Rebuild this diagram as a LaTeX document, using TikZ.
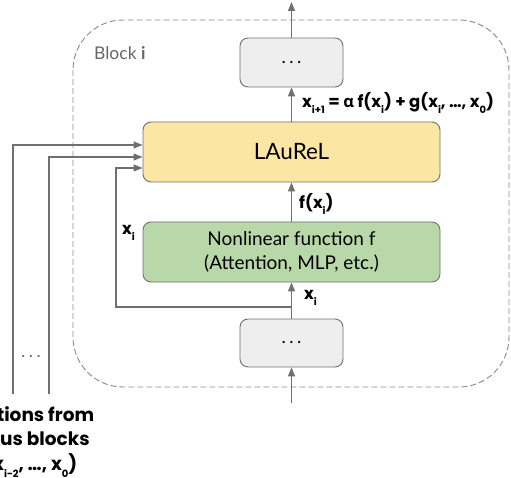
\documentclass[tikz,border=0pt]{standalone}
\usepackage{fontspec}
\setmainfont{Lato}
\newfontfamily\lbl{Poppins}
\newfontfamily\grk{Open Sans}
\usetikzlibrary{arrows.meta}
\definecolor{linegray}{HTML}{707070}
\definecolor{dashgray}{HTML}{8A8A8A}
\definecolor{boxgray}{HTML}{EEEEEE}
\definecolor{yel}{HTML}{FCE6A4}
\definecolor{grn}{HTML}{B9D8A9}
\definecolor{txtgray}{HTML}{666666}
\newcommand{\lsub}[1]{\raisebox{-0.38em}{\fontsize{10pt}{10pt}\selectfont #1}}
\newcommand{\wdots}{.\hspace{3.5pt}.\hspace{3.5pt}.}
\tikzset{
  box/.style={draw=linegray, line width=0.9pt, rounded corners=8pt, inner sep=0pt, align=center},
  edge/.style={draw=linegray, line width=1.1pt, -{Triangle[length=9pt,width=7pt]}},
  lab/.style={font=\lbl\bfseries\fontsize{16.5pt}{19pt}\selectfont, inner sep=0pt, text=black},
}
\begin{document}
\begin{tikzpicture}[x=1pt,y=-1pt]
\useasboundingbox (0,0) rectangle (511,478);
\clip (0,0) rectangle (511,478);
% dashed block
\draw[dashgray, line width=0.9pt, dash pattern=on 6pt off 3pt, rounded corners=50pt] (73,20) rectangle (509,387);
\node[anchor=west, text=txtgray, font=\fontsize{17.5pt}{20pt}\selectfont, inner sep=0pt] (blk) at (94,53) {Block \textbf{i}};
% boxes
\node[box, fill=boxgray, minimum width=103pt, minimum height=49pt] (top) at (291.5,62.5) {\fontsize{18pt}{18pt}\selectfont\wdots};
\node[box, fill=yel, minimum width=297pt, minimum height=60pt, font=\fontsize{22.5pt}{24pt}\selectfont] (laurel) at (291.5,152) {LAuReL};
\node[box, fill=grn, minimum width=297pt, minimum height=60pt, font=\fontsize{19pt}{24pt}\selectfont] (green) at (291.5,252) {Nonlinear function f\\(Attention, MLP, etc.)};
\node[box, fill=boxgray, minimum width=103pt, minimum height=48pt] (bot) at (291.5,343) {\fontsize{18pt}{18pt}\selectfont\wdots};
% main flow
\coordinate (outtop) at (291.5,2);
\coordinate (inbot) at (291.5,403);
\coordinate (br) at (291.5,307);
\coordinate (c1) at (116,307);
\coordinate (s1) at (13,394);
\coordinate (s2) at (49,394);
\draw[edge] (top.north) -- (outtop);
\draw[edge] (laurel.north) -- (top.south);
\draw[edge] (green.north) -- (laurel.south);
\draw[edge] (bot.north) -- (green.south);
\draw[edge] (inbot) -- (bot.south);
\draw[edge] (br) -- (c1) |- ([yshift=-16pt]laurel.west);
\draw[edge] (s1) |- ([yshift=7pt]laurel.west);
\draw[edge] (s2) |- ([yshift=-5pt]laurel.west);
\node[text=linegray, font=\fontsize{18pt}{18pt}\selectfont, inner sep=0pt] (dots) at (31,357) {\wdots};
% labels
\node[lab, anchor=west] (eq) at (302,103) {x\lsub{i+1} = {\grk α} f(x\lsub{i}) + g(x\lsub{i}, …, x\lsub{0})};
\node[lab, anchor=west] (fx) at (299,204) {f(x\lsub{i})};
\node[lab, anchor=west] (xb) at (304,298) {x\lsub{i}};
\node[lab, anchor=west] (xl) at (122,233) {x\lsub{i}};
\node[lab, align=center, font=\lbl\bfseries\fontsize{18.5pt}{24.5pt}\selectfont] (prev) at (14.5,442) {Activations from\\previous blocks\\(x\lsub{i-1}, x\lsub{i-2}, …, x\lsub{0})};
\end{tikzpicture}
\end{document}
